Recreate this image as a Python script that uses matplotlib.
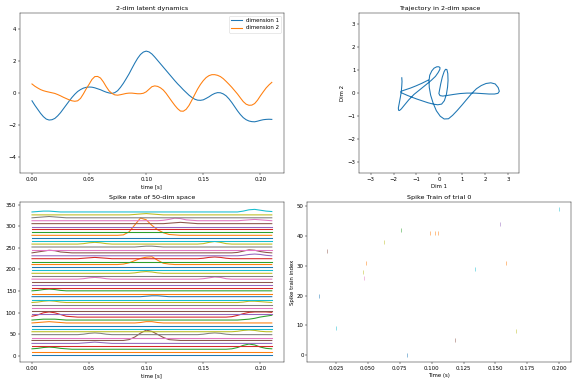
import numpy as np
import matplotlib
matplotlib.use("Agg")
import matplotlib.pyplot as plt

# time axis (s) of the latent curves
time = np.linspace(0, 0.21, 85)

# 2-dim latent trajectories
dim1 = [-0.48, -0.76, -1.01, -1.26, -1.47, -1.62, -1.68, -1.66, -1.58, -1.42,
        -1.22, -0.98, -0.74, -0.50, -0.27, -0.07, 0.10, 0.22, 0.31, 0.36,
        0.38, 0.37, 0.33, 0.27, 0.21, 0.13, 0.06, 0.01, -0.02, 0.03,
        0.15, 0.36, 0.61, 0.90, 1.20, 1.54, 1.87, 2.17, 2.41, 2.56,
        2.62, 2.57, 2.44, 2.25, 2.04, 1.83, 1.62, 1.41, 1.20, 0.99,
        0.78, 0.58, 0.40, 0.21, 0.04, -0.13, -0.27, -0.38, -0.44, -0.45,
        -0.42, -0.33, -0.23, -0.11, -0.02, 0.03, 0.02, -0.05, -0.17, -0.36,
        -0.59, -0.85, -1.11, -1.34, -1.53, -1.66, -1.74, -1.78, -1.79, -1.75,
        -1.70, -1.66, -1.64, -1.63, -1.64]
dim2 = [0.57, 0.43, 0.32, 0.22, 0.15, 0.10, 0.06, 0.02, -0.02, -0.09,
        -0.17, -0.26, -0.34, -0.42, -0.48, -0.51, -0.48, -0.33, -0.05, 0.27,
        0.55, 0.85, 1.03, 1.04, 0.94, 0.70, 0.40, 0.14, -0.02, -0.11,
        -0.13, -0.10, -0.06, -0.02, 0.00, 0.00, -0.02, -0.04, -0.04, -0.01,
        0.08, 0.24, 0.40, 0.45, 0.42, 0.33, 0.19, -0.02, -0.27, -0.52,
        -0.76, -0.97, -1.12, -1.13, -1.01, -0.77, -0.44, -0.09, 0.25, 0.54,
        0.78, 0.97, 1.09, 1.15, 1.15, 1.11, 1.03, 0.90, 0.73, 0.55,
        0.36, 0.15, -0.06, -0.30, -0.53, -0.69, -0.76, -0.75, -0.65, -0.44,
        -0.17, 0.08, 0.32, 0.51, 0.67]

# spike rates of the 50 neurons on a coarser time grid:
# flat level plus bumps {time index: extra rate}
rate_time = np.linspace(0, 0.21, 43)
n_neurons = 50
rate_base = 1.6
line_gap = 6.76
rate_bumps = {
    2: {0: 1, 1: 2, 2: 4, 3: 5, 4: 4, 5: 2, 6: 1,
        35: 1, 36: 4, 37: 9, 38: 12, 39: 10, 40: 5, 41: 2, 42: 1},
    4: {9: 1, 10: 2, 11: 3, 12: 2, 13: 1},
    5: {17: 2, 18: 8, 19: 17, 20: 24, 21: 21, 22: 14, 23: 7, 24: 2, 25: 1},
    7: {9: 1, 10: 3, 11: 4, 12: 3, 13: 1, 30: 1, 31: 3, 32: 4, 33: 3, 34: 1},
    8: {36: 1, 37: 3, 38: 4, 39: 3, 40: 1},
    11: {1: 1, 2: 2, 3: 3, 4: 2, 5: 1, 19: 1, 20: 3, 21: 3, 22: 1},
    12: {1: 1, 2: 2, 3: 2, 4: 2, 5: 1,
         37: 1, 38: 2, 39: 4, 40: 7, 41: 9, 42: 11},
    13: {0: 2, 1: 5, 2: 10, 3: 12, 4: 10, 5: 6, 6: 2, 7: 1,
         35: 1, 36: 4, 37: 8, 38: 11, 39: 12, 40: 12, 41: 12, 42: 11},
    18: {1: 1, 2: 3, 3: 4, 4: 3, 5: 1, 37: 1, 38: 3, 39: 3, 40: 2, 41: 1},
    20: {20: 1, 21: 2, 22: 2, 23: 1},
    22: {1: 1, 2: 3, 3: 4, 4: 3, 5: 1},
    26: {9: 1, 10: 3, 11: 4, 12: 3, 13: 1, 30: 1, 31: 3, 32: 5, 33: 4, 34: 1},
    28: {18: 1, 19: 3, 20: 4, 21: 3, 22: 1},
    31: {16: 1, 17: 4, 18: 9, 19: 14, 20: 17, 21: 18, 22: 10, 23: 3, 24: 1},
    33: {9: 1, 10: 2, 11: 3, 12: 2, 13: 1, 30: 1, 31: 3, 32: 4, 33: 3, 34: 1},
    34: {37: 1, 38: 3, 39: 4, 40: 3, 41: 1},
    35: {1: 2, 2: 4, 3: 6, 4: 5, 5: 2, 6: 1,
         36: 1, 37: 4, 38: 7, 39: 6, 40: 3, 41: 1},
    37: {19: 1, 20: 2, 21: 2, 22: 1},
    38: {9: 1, 10: 3, 11: 4, 12: 3, 13: 1, 30: 1, 31: 4, 32: 6, 33: 4, 34: 1},
    41: {16: 1, 17: 8, 18: 24, 19: 40, 20: 36, 21: 23, 22: 13, 23: 6, 24: 2, 25: 1},
    45: {24: 1, 25: 2, 26: 3, 27: 2, 28: 1},
    46: {23: 1, 24: 3, 25: 6, 26: 5, 27: 2, 28: 1,
         37: 1, 38: 2, 39: 3, 40: 2, 41: 1},
    47: {1: 1, 2: 2, 3: 3, 4: 2, 5: 1},
    48: {18: 1, 19: 2, 20: 3, 21: 2, 22: 1},
    49: {1: 1, 2: 2, 3: 2, 4: 1, 37: 2, 38: 5, 39: 6, 40: 4, 41: 2, 42: 1},
}

# spikes of trial 0
spike_times = [0.0120, 0.0183, 0.0247, 0.0460, 0.0470, 0.0488, 0.0624, 0.0758,
               0.0807, 0.0989, 0.1025, 0.1051, 0.1183, 0.1341, 0.1538, 0.1583,
               0.1658, 0.2000]
spike_index = [20, 35, 9, 28, 26, 31, 38, 42,
               0, 41, 41, 41, 5, 29, 44, 31,
               8, 49]

dpi = 38.4
lw = 2.0
fig, axes = plt.subplots(2, 2, figsize=(577 / dpi, 384 / dpi), dpi=dpi)

ax = axes[0, 0]
ax.plot(time, dim1, lw=lw, label='dimension 1')
ax.plot(time, dim2, lw=lw, label='dimension 2')
ax.set_ylim(-5, 5)
ax.set_xlabel('time [s]')
ax.set_title('2-dim latent dynamics')
ax.legend(loc='upper right')

ax = axes[0, 1]
ax.plot(dim1, dim2, lw=lw)
ax.set_xlim(-3.5, 3.5)
ax.set_ylim(-3.5, 3.5)
ax.set_aspect('equal')
ax.set_xlabel('Dim 1')
ax.set_ylabel('Dim 2')
ax.set_title('Trajectory in 2-dim space')

ax = axes[1, 0]
for i in range(n_neurons):
    rate = np.full(len(rate_time), rate_base)
    for k, v in rate_bumps.get(i, {}).items():
        rate[k] += v
    ax.plot(rate_time, rate + i * line_gap, lw=lw)
ax.set_xlabel('time [s]')
ax.set_title('Spike rate of 50-dim space')

ax = axes[1, 1]
colors = ['C%d' % (i % 10) for i in spike_index]
ax.scatter(spike_times, spike_index, c=colors, marker='|', s=60, alpha=0.6)
ax.set_xlabel('Time (s)')
ax.set_ylabel('Spike train index')
ax.set_title('Spike Train of trial 0')

plt.tight_layout()
plt.savefig('out.png', dpi=dpi)
